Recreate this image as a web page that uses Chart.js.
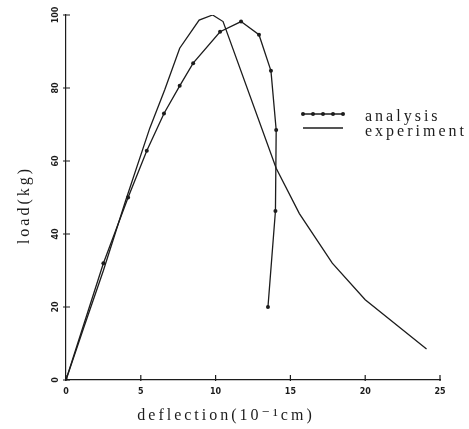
<!DOCTYPE html>
<html>
<head>
<meta charset="utf-8">
<script src="https://cdn.jsdelivr.net/npm/chart.js@4.4.1/dist/chart.umd.min.js"></script>
<style>
  html, body { margin: 0; padding: 0; background: #fff; }
  #wrap { width: 469px; height: 429px; }
</style>
</head>
<body>
<div id="wrap"><canvas id="chart" width="469" height="429"></canvas></div>
<script>
// values (deflection in 10^-1 cm, load in kg)
const analysisX = [0, 2.5, 4.15, 5.4, 6.55, 7.6, 8.5, 10.3, 11.7, 12.9, 13.7, 14.05, 14.0, 13.5];
const analysisY = [0, 32, 50, 62.8, 73, 80.6, 86.8, 95.4, 98.2, 94.6, 84.7, 68.5, 46.3, 20];
const experimentX = [0, 1.2, 2.5, 4.0, 5.6, 6.6, 7.6, 8.9, 9.8, 10.5, 14.05, 15.6, 17.8, 20.0, 24.1];
const experimentY = [0, 14.5, 30, 49.3, 69, 79.5, 90.9, 98.6, 100, 98.2, 58, 45.6, 32, 22, 8.5];
const xTicks = [0, 5, 10, 15, 20, 25];
const yTicks = [0, 20, 40, 60, 80, 100];
const seriesNames = ['analysis', 'experiment'];
const xTitle = 'deflection(10\u207B\u00B9cm)';
const yTitle = 'load(kg)';

const INK = '#1c1c1c';
const serif = '16px "Liberation Serif", "DejaVu Serif", serif';

const toPoints = (xs, ys) => xs.map((x, i) => ({ x, y: ys[i] }));

// small ticks crossing the axis lines, axis titles and the legend box
const decor = {
  id: 'decor',
  afterDraw(chart) {
    const { ctx, scales: { x, y } } = chart;
    const x0 = x.getPixelForValue(0);
    const y0 = y.getPixelForValue(0);
    ctx.save();
    ctx.strokeStyle = INK;
    ctx.lineWidth = 1.2;
    ctx.beginPath();
    xTicks.forEach(v => {
      const px = x.getPixelForValue(v);
      ctx.moveTo(px, y0 - 5);
      ctx.lineTo(px, y0 + 1);
    });
    yTicks.forEach(v => {
      const py = y.getPixelForValue(v);
      ctx.moveTo(x0 - 3, py);
      ctx.lineTo(x0 + 4, py);
    });
    ctx.stroke();

    ctx.fillStyle = INK;
    ctx.font = serif;
    ctx.letterSpacing = '3px';
    ctx.textAlign = 'center';
    ctx.textBaseline = 'middle';
    ctx.fillText(xTitle, 226, 416);
    ctx.save();
    ctx.translate(25, 205);
    ctx.rotate(-Math.PI / 2);
    ctx.fillText(yTitle, 0, 0);
    ctx.restore();

    // legend
    const lx0 = 303, lx1 = 343;
    const rows = [114, 128];
    ctx.lineWidth = 1.3;
    rows.forEach((ry, i) => {
      ctx.beginPath();
      ctx.moveTo(lx0, ry);
      ctx.lineTo(lx1, ry);
      ctx.stroke();
      if (i === 0) {
        for (let k = 0; k < 5; k++) {
          ctx.beginPath();
          ctx.arc(lx0 + k * 10, ry, 2, 0, Math.PI * 2);
          ctx.fill();
        }
      }
      ctx.textAlign = 'left';
      ctx.fillText(seriesNames[i], 365, ry + (i === 0 ? 3 : 4));
    });
    ctx.restore();
  }
};

const tickFont = { family: '"DejaVu Sans", sans-serif', size: 8, weight: 'bold' };

new Chart(document.getElementById('chart'), {
  type: 'scatter',
  data: {
    datasets: [
      {
        label: seriesNames[0],
        data: toPoints(analysisX, analysisY),
        showLine: true,
        borderColor: INK,
        backgroundColor: INK,
        borderWidth: 1.3,
        pointRadius: 2,
        pointBorderWidth: 0,
        tension: 0
      },
      {
        label: seriesNames[1],
        data: toPoints(experimentX, experimentY),
        showLine: true,
        borderColor: INK,
        borderWidth: 1.3,
        pointRadius: 0,
        tension: 0
      }
    ]
  },
  options: {
    responsive: false,
    animation: false,
    layout: { padding: { left: 0, top: 15, right: 29, bottom: 0 } },
    plugins: { legend: { display: false }, tooltip: { enabled: false } },
    scales: {
      x: {
        type: 'linear',
        min: 0,
        max: 25,
        afterBuildTicks: s => { s.ticks = xTicks.map(v => ({ value: v })); },
        afterFit: s => { s.height = 49; },
        grid: { display: false, drawTicks: false },
        border: { display: true, color: INK, width: 1.2 },
        ticks: { color: INK, font: tickFont, padding: 7 }
      },
      y: {
        type: 'linear',
        min: 0,
        max: 100,
        afterBuildTicks: s => { s.ticks = yTicks.map(v => ({ value: v })); },
        afterFit: s => { s.width = 66; },
        grid: { display: false, drawTicks: false },
        border: { display: true, color: INK, width: 1.2 },
        ticks: { color: INK, font: tickFont, padding: 2, minRotation: 90, maxRotation: 90, crossAlign: 'center' }
      }
    }
  },
  plugins: [decor]
});
</script>
</body>
</html>
